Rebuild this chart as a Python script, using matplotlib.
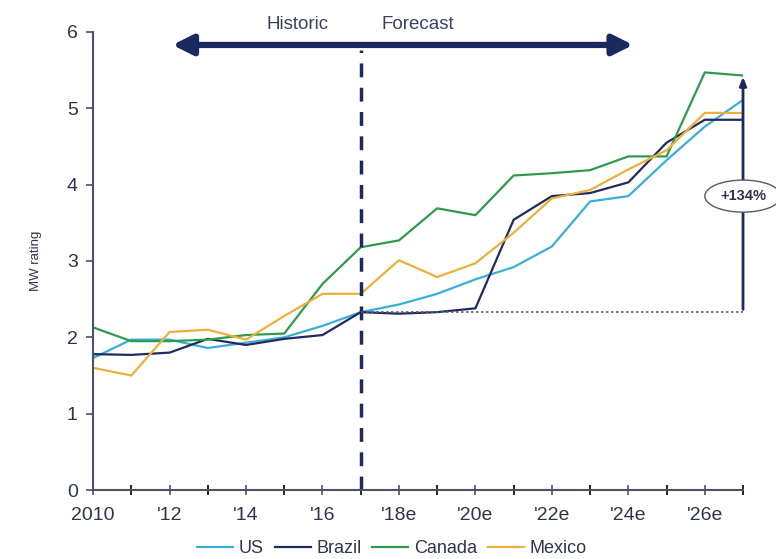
import matplotlib.pyplot as plt
from matplotlib.patches import Ellipse

plt.rcParams['font.family'] = ['Liberation Sans', 'DejaVu Sans']

years = list(range(2010, 2028))
us = [1.73, 1.97, 1.97, 1.86, 1.93, 2.0, 2.15, 2.33, 2.43, 2.57, 2.76, 2.92,
      3.19, 3.78, 3.85, 4.32, 4.76, 5.11]
brazil = [1.78, 1.77, 1.8, 1.98, 1.9, 1.98, 2.03, 2.33, 2.31, 2.33, 2.38, 3.54,
          3.85, 3.89, 4.03, 4.55, 4.85, 4.85]
canada = [2.13, 1.95, 1.95, 1.97, 2.03, 2.05, 2.7, 3.18, 3.27, 3.69, 3.6, 4.12,
          4.15, 4.19, 4.37, 4.37, 5.47, 5.43]
mexico = [1.6, 1.5, 2.07, 2.1, 1.97, 2.28, 2.57, 2.57, 3.01, 2.79, 2.97, 3.37,
          3.82, 3.93, 4.2, 4.45, 4.94, 4.94]

tick_years = [2010, 2012, 2014, 2016, 2018, 2020, 2022, 2024, 2026]
tick_labels = ['2010', "'12", "'14", "'16", "'18e", "'20e", "'22e", "'24e", "'26e"]

navy = '#1b2a5e'
axcol = '#4a5266'
txtcol = '#2e3548'

fig = plt.figure(figsize=(7.76, 5.59), dpi=100)
ax = fig.add_axes([0.12, 0.1234, 0.8375, 0.8194])

ax.plot(years, us, color='#3aaed8', lw=1.6, label='US')
ax.plot(years, brazil, color='#1f2b5c', lw=1.6, label='Brazil')
ax.plot(years, canada, color='#2f9a4c', lw=1.6, label='Canada')
ax.plot(years, mexico, color='#e9b13c', lw=1.6, label='Mexico')

ax.set_xlim(2010, 2027)
ax.set_ylim(0, 6)
ax.set_xticks(years, minor=True)
ax.set_xticks(tick_years)
ax.set_xticklabels(tick_labels)
ax.set_yticks(range(7))

for s in ['top', 'right']:
    ax.spines[s].set_visible(False)
for s in ['left', 'bottom']:
    ax.spines[s].set_color(axcol)
    ax.spines[s].set_linewidth(1.5)
ax.tick_params(axis='both', colors=axcol, labelcolor=txtcol, labelsize=14)
ax.tick_params(axis='x', which='both', direction='inout', length=7, width=1.2, pad=9)
ax.tick_params(axis='y', direction='out', length=5, width=1.2, pad=6)
ax.set_ylabel('MW rating', fontsize=9.5, color=txtcol, labelpad=18)

# historic / forecast divider
ax.plot([2017, 2017], [0, 5.77], color=navy, lw=2.5, ls=(0, (4, 3)), clip_on=False)
ax.annotate('', xy=(2012.0, 5.83), xytext=(2024.2, 5.83),
            arrowprops=dict(arrowstyle='<|-|>,head_length=1.2,head_width=0.6',
                            color=navy, lw=4.5), annotation_clip=False)
ax.text(2015.35, 6.1, 'Historic', ha='center', va='center', fontsize=13.5, color='#3a4260')
ax.text(2018.5, 6.1, 'Forecast', ha='center', va='center', fontsize=13.5, color='#3a4260')

# growth marker
ax.plot([2017, 2027], [2.33, 2.33], color='#5a6070', lw=1.2, ls=(0, (1.5, 1.5)))
ax.annotate('', xy=(2027, 5.45), xytext=(2027, 2.33),
            arrowprops=dict(arrowstyle='-|>,head_length=0.5,head_width=0.2',
                            color=navy, lw=2), annotation_clip=False)
ax.add_patch(Ellipse((2027, 3.85), 2.0, 0.42, facecolor='white', edgecolor='#555a66',
                     lw=1, clip_on=False, zorder=5))
ax.text(2027, 3.85, '+134%', ha='center', va='center', fontsize=10.5,
        fontweight='bold', color=txtcol, zorder=6)

leg = fig.legend(loc='lower center', bbox_to_anchor=(0.505, -0.026), ncol=4,
                 frameon=False, fontsize=13, handlelength=2.0, handletextpad=0.3,
                 columnspacing=0.6)
for t in leg.get_texts():
    t.set_color(txtcol)

fig.savefig('out.png', dpi=100)
